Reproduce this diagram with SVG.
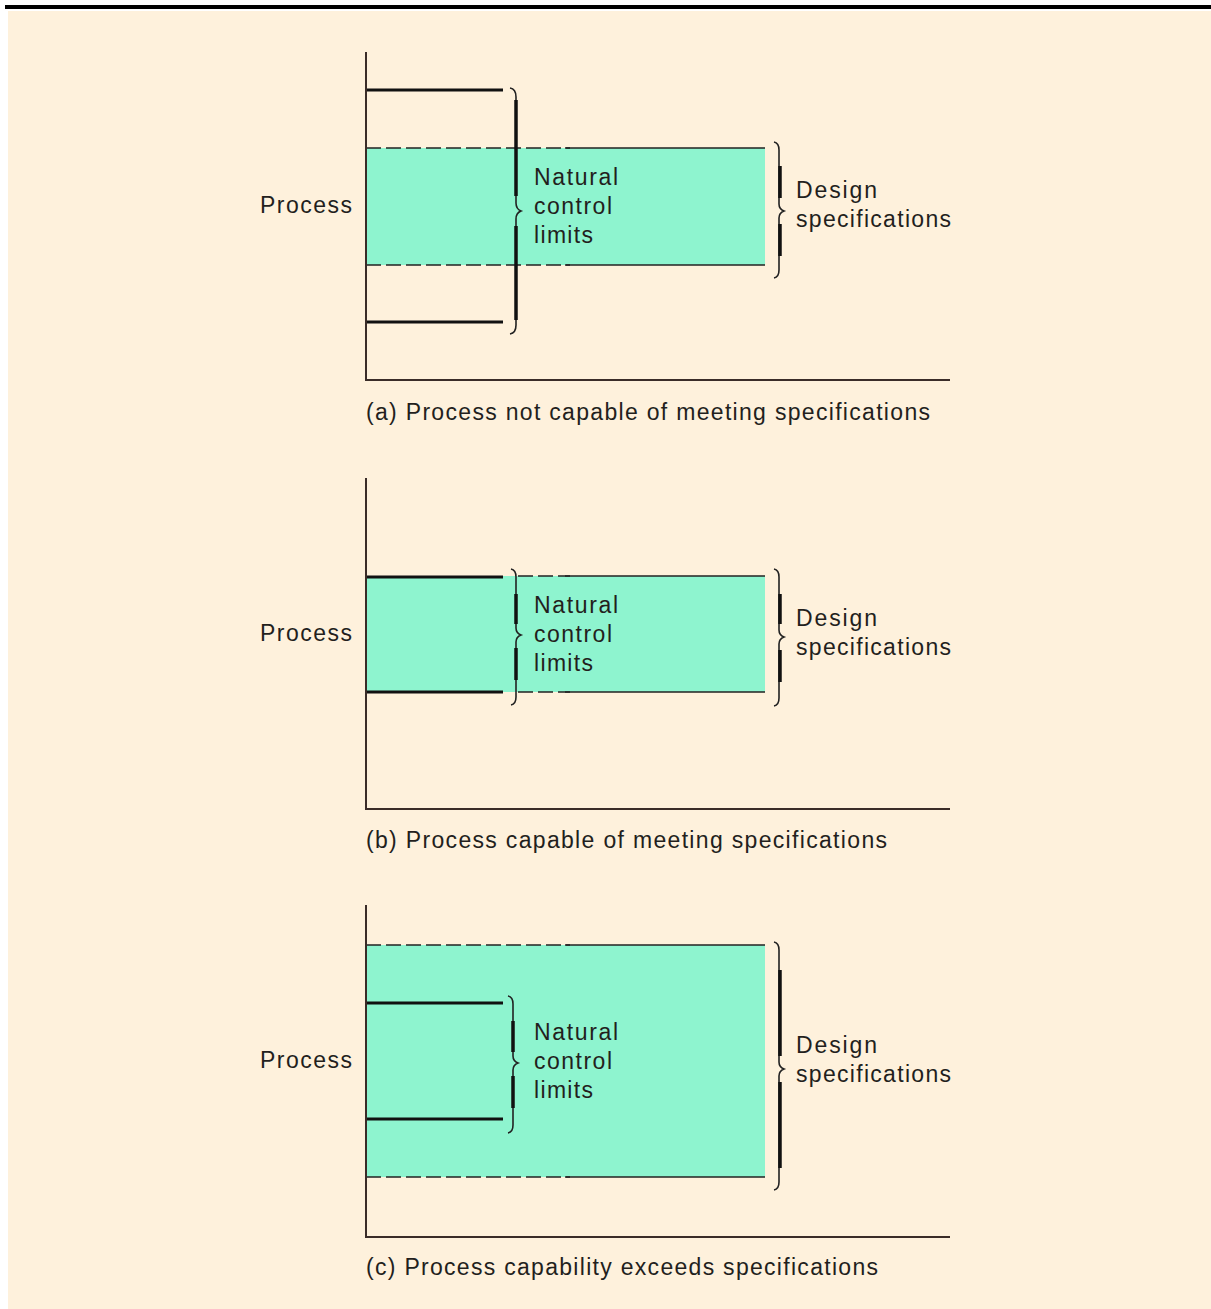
<svg xmlns="http://www.w3.org/2000/svg" width="1211" height="1309" viewBox="0 0 1211 1309">
<style>
.t{font-family:"Liberation Sans",Arial,sans-serif;font-size:23px;fill:#231f1d}
.ax{stroke:#3a2c28;stroke-width:2;fill:none}
.lim{stroke:#111;stroke-width:3;fill:none}
.dash{stroke:#222;stroke-width:1.6;stroke-dasharray:15 5;fill:none}
.sol{stroke:#222;stroke-width:1.6;fill:none}
.br{stroke:#222;stroke-width:1.6;fill:none}
.brk{stroke:#111;stroke-width:3.5;fill:none}
.band{fill:#8EF4CF}
</style>
<rect width="1211" height="1309" fill="#ffffff"/>
<rect x="8" y="11" width="1203" height="1298" fill="#FEF1DC"/>
<rect x="5" y="5" width="1206" height="4" fill="#000"/>

<!-- Panel a -->
<g id="panel-a">
  <rect class="band" x="366" y="148" width="399" height="117"/>
  <line class="dash" x1="366" y1="148" x2="570" y2="148"/>
  <line class="sol" x1="565" y1="148" x2="765" y2="148"/>
  <line class="dash" x1="366" y1="265" x2="570" y2="265"/>
  <line class="sol" x1="565" y1="265" x2="765" y2="265"/>
  <line class="lim" x1="366" y1="90" x2="503" y2="90"/>
  <line class="lim" x1="366" y1="322" x2="503" y2="322"/>
  <path class="ax" d="M366 52 V380 H950"/>
</g>
<g id="brace-nat-a">
  <path class="br" d="M510 88 Q516 89 516 97 V203 Q516 209 521 211 Q516 213 516 219 V325 Q516 333 510 334"/>
  <line class="brk" x1="516" y1="100" x2="516" y2="196"/>
  <line class="brk" x1="516" y1="226" x2="516" y2="320"/>
</g>
<g id="brace-des-a">
  <path class="br" d="M774 142 Q779 143 779 150 V204 Q779 209 784 211 Q779 213 779 218 V270 Q779 277 774 278"/>
  <line class="brk" x1="780" y1="166" x2="780" y2="198"/>
  <line class="brk" x1="780" y1="224" x2="780" y2="256"/>
</g>
<g id="labels-a">
  <text class="t" x="260" y="213" textLength="92" lengthAdjust="spacing">Process</text>
  <text class="t" x="534" y="185" textLength="84" lengthAdjust="spacing">Natural</text>
  <text class="t" x="534" y="214" textLength="78" lengthAdjust="spacing">control</text>
  <text class="t" x="534" y="243" textLength="59" lengthAdjust="spacing">limits</text>
  <text class="t" x="796" y="198" textLength="81" lengthAdjust="spacing">Design</text>
  <text class="t" x="796" y="227" textLength="155" lengthAdjust="spacing">specifications</text>
  <text class="t" x="366" y="420" textLength="564" lengthAdjust="spacing">(a) Process not capable of meeting specifications</text>
</g>

<!-- Panel b -->
<g id="panel-b">
  <rect class="band" x="366" y="576" width="399" height="116"/>
  <line class="dash" x1="518" y1="576" x2="570" y2="576"/>
  <line class="sol" x1="565" y1="576" x2="765" y2="576"/>
  <line class="dash" x1="518" y1="692" x2="570" y2="692"/>
  <line class="sol" x1="565" y1="692" x2="765" y2="692"/>
  <line class="lim" x1="366" y1="577" x2="503" y2="577"/>
  <line class="lim" x1="366" y1="692" x2="503" y2="692"/>
  <path class="ax" d="M366 478 V809 H950"/>
</g>
<g id="brace-nat-b">
  <path class="br" d="M511 569 Q516 570 516 577 V628 Q516 633 521 635 Q516 637 516 642 V697 Q516 704 511 705"/>
  <line class="brk" x1="516" y1="594" x2="516" y2="624"/>
  <line class="brk" x1="516" y1="648" x2="516" y2="680"/>
</g>
<g id="brace-des-b">
  <path class="br" d="M774 569 Q779 570 779 577 V630 Q779 635 784 637 Q779 639 779 644 V698 Q779 705 774 706"/>
  <line class="brk" x1="780" y1="594" x2="780" y2="624"/>
  <line class="brk" x1="780" y1="650" x2="780" y2="682"/>
</g>
<g id="labels-b">
  <text class="t" x="260" y="641" textLength="92" lengthAdjust="spacing">Process</text>
  <text class="t" x="534" y="613" textLength="84" lengthAdjust="spacing">Natural</text>
  <text class="t" x="534" y="642" textLength="78" lengthAdjust="spacing">control</text>
  <text class="t" x="534" y="671" textLength="59" lengthAdjust="spacing">limits</text>
  <text class="t" x="796" y="626" textLength="81" lengthAdjust="spacing">Design</text>
  <text class="t" x="796" y="655" textLength="155" lengthAdjust="spacing">specifications</text>
  <text class="t" x="366" y="848" textLength="521" lengthAdjust="spacing">(b) Process capable of meeting specifications</text>
</g>

<!-- Panel c -->
<g id="panel-c">
  <rect class="band" x="366" y="945" width="399" height="232"/>
  <line class="dash" x1="366" y1="945" x2="570" y2="945"/>
  <line class="sol" x1="565" y1="945" x2="765" y2="945"/>
  <line class="dash" x1="366" y1="1177" x2="570" y2="1177"/>
  <line class="sol" x1="565" y1="1177" x2="765" y2="1177"/>
  <line class="lim" x1="366" y1="1003" x2="503" y2="1003"/>
  <line class="lim" x1="366" y1="1119" x2="503" y2="1119"/>
  <path class="ax" d="M366 905 V1237 H950"/>
</g>
<g id="brace-nat-c">
  <path class="br" d="M508 996 Q513 997 513 1004 V1056 Q513 1061 518 1063 Q513 1065 513 1070 V1125 Q513 1132 508 1133"/>
  <line class="brk" x1="513" y1="1021" x2="513" y2="1052"/>
  <line class="brk" x1="513" y1="1076" x2="513" y2="1108"/>
</g>
<g id="brace-des-c">
  <path class="br" d="M774 942 Q779 943 779 950 V1062 Q779 1067 784 1069 Q779 1071 779 1076 V1182 Q779 1189 774 1190"/>
  <line class="brk" x1="780" y1="970" x2="780" y2="1056"/>
  <line class="brk" x1="780" y1="1082" x2="780" y2="1168"/>
</g>
<g id="labels-c">
  <text class="t" x="260" y="1068" textLength="92" lengthAdjust="spacing">Process</text>
  <text class="t" x="534" y="1040" textLength="84" lengthAdjust="spacing">Natural</text>
  <text class="t" x="534" y="1069" textLength="78" lengthAdjust="spacing">control</text>
  <text class="t" x="534" y="1098" textLength="59" lengthAdjust="spacing">limits</text>
  <text class="t" x="796" y="1053" textLength="81" lengthAdjust="spacing">Design</text>
  <text class="t" x="796" y="1082" textLength="155" lengthAdjust="spacing">specifications</text>
  <text class="t" x="366" y="1275" textLength="512" lengthAdjust="spacing">(c) Process capability exceeds specifications</text>
</g>
</svg>
